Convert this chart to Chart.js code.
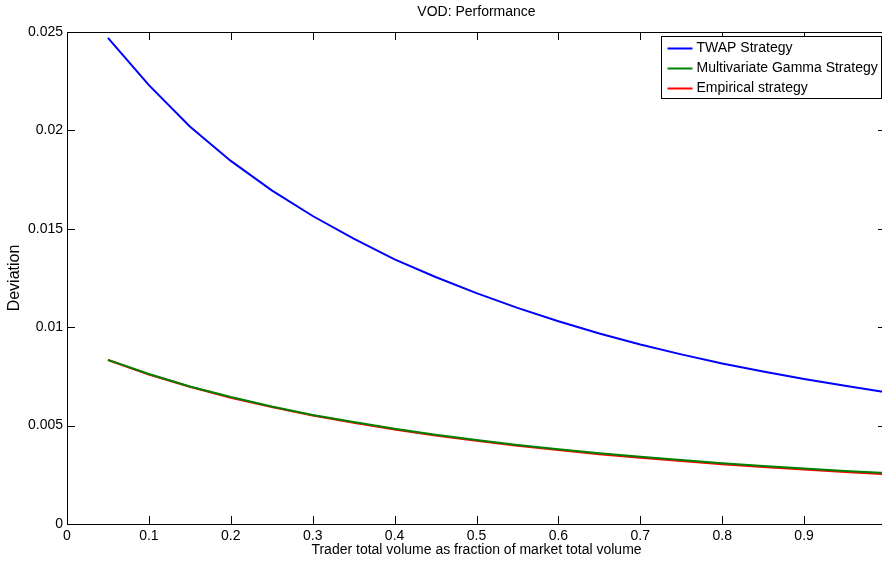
<!DOCTYPE html>
<html>
<head>
<meta charset="utf-8">
<script src="https://cdn.jsdelivr.net/npm/chart.js@4/dist/chart.umd.min.js"></script>
<style>
  body { margin: 0; overflow: hidden; background: #fff; }
</style>
</head>
<body>
<canvas id="myChart" width="890" height="563"></canvas>
<script>
// fraction of market volume
const volumeFraction = [0.05, 0.10, 0.15, 0.20, 0.25, 0.30, 0.35, 0.40, 0.45, 0.50,
                        0.55, 0.60, 0.65, 0.70, 0.75, 0.80, 0.85, 0.90, 0.95, 1.00];
const twapDev = [0.0247, 0.0223, 0.0202, 0.01845, 0.01695, 0.01565, 0.0145, 0.01345, 0.01255, 0.01173,
                 0.01098, 0.0103, 0.00968, 0.00912, 0.00862, 0.00816, 0.00775, 0.00737, 0.00702, 0.0067];
const gammaDev = [0.00834, 0.00762, 0.00699, 0.00645, 0.00597, 0.00554, 0.00518, 0.00484, 0.00454, 0.00427,
                  0.00402, 0.00380, 0.00360, 0.00342, 0.00325, 0.00309, 0.00295, 0.00282, 0.00269, 0.00259];
const empiricalDev = [0.00833, 0.00760, 0.00697, 0.00642, 0.00594, 0.00551, 0.00514, 0.00480, 0.00450, 0.00423,
                      0.00398, 0.00376, 0.00355, 0.00337, 0.00320, 0.00304, 0.00290, 0.00277, 0.00264, 0.00253];
const seriesNames = ['TWAP Strategy', 'Multivariate Gamma Strategy', 'Empirical strategy'];

const FONT = 'Liberation Sans, Arial, Helvetica, sans-serif';

function pts(ys) {
    return volumeFraction.map((x, i) => ({ x: x, y: ys[i] }));
}

// matlab style box, inward ticks, title and legend
const matlabBox = {
    id: 'matlabBox',
    afterDraw(chart) {
        const ctx = chart.ctx;
        const a = chart.chartArea;
        const xs = chart.scales.x, ys = chart.scales.y;
        ctx.save();
        ctx.strokeStyle = '#000';
        ctx.lineWidth = 1;
        ctx.strokeRect(Math.round(a.left) + 0.5, Math.round(a.top) + 0.5,
                       Math.round(a.right - a.left), Math.round(a.bottom - a.top));
        ctx.beginPath();
        xs.ticks.forEach(t => {
            const px = Math.round(xs.getPixelForValue(t.value)) + 0.5;
            ctx.moveTo(px, a.bottom); ctx.lineTo(px, a.bottom - 8);
            ctx.moveTo(px, a.top); ctx.lineTo(px, a.top + 8);
        });
        ys.ticks.forEach(t => {
            const py = Math.round(ys.getPixelForValue(t.value)) + 0.5;
            ctx.moveTo(a.left, py); ctx.lineTo(a.left + 8, py);
            ctx.moveTo(a.right, py); ctx.lineTo(a.right - 8, py);
        });
        ctx.stroke();

        // title
        ctx.fillStyle = '#000';
        ctx.font = '14px ' + FONT;
        ctx.textAlign = 'center';
        ctx.textBaseline = 'middle';
        ctx.fillText('VOD: Performance', (a.left + a.right) / 2, 12);

        // legend
        const sets = chart.data.datasets;
        let w = 0;
        sets.forEach(d => { w = Math.max(w, ctx.measureText(d.label).width); });
        const bw = Math.round(w + 39), bh = 62;
        const bx = 881.5 - bw, by = Math.round(a.top + 4) + 0.5;
        ctx.fillStyle = '#fff';
        ctx.fillRect(bx, by, bw, bh);
        ctx.strokeRect(bx, by, bw, bh);
        ctx.textAlign = 'left';
        sets.forEach((d, i) => {
            const yy = by + 12 + i * 20;
            ctx.strokeStyle = d.borderColor;
            ctx.lineWidth = 2;
            ctx.beginPath();
            ctx.moveTo(bx + 6, yy); ctx.lineTo(bx + 31, yy);
            ctx.stroke();
            ctx.fillStyle = '#000';
            ctx.fillText(d.label, bx + 35, yy);
        });
        ctx.restore();
    }
};

const ctx = document.getElementById('myChart');
new Chart(ctx, {
    type: 'line',
    data: {
        datasets: [{
            label: seriesNames[0],
            data: pts(twapDev),
            borderColor: '#0000ff',
            borderWidth: 2
        }, {
            label: seriesNames[1],
            data: pts(gammaDev),
            borderColor: '#008000',
            borderWidth: 2
        }, {
            label: seriesNames[2],
            data: pts(empiricalDev),
            borderColor: '#ff0000',
            borderWidth: 2
        }]
    },
    options: {
        responsive: false,
        animation: false,
        devicePixelRatio: 1,
        layout: { padding: { top: 32, right: 4, left: 0, bottom: 0 } },
        elements: { point: { radius: 0 }, line: { tension: 0 } },
        plugins: {
            legend: { display: false },
            tooltip: { enabled: false }
        },
        scales: {
            x: {
                type: 'linear',
                min: 0,
                max: 1,
                grid: { display: false, drawTicks: false },
                border: { display: false },
                ticks: {
                    stepSize: 0.1,
                    padding: 4,
                    color: '#000',
                    font: { family: FONT, size: 14 },
                    maxRotation: 0,
                    callback: v => String(+v.toFixed(1))
                },
                title: {
                    display: true,
                    text: 'Trader total volume as fraction of market total volume',
                    color: '#000',
                    font: { family: FONT, size: 14 },
                    padding: { top: 0, bottom: 4 }
                },
                afterFit: s => { s.height = 39; s.paddingLeft = 0; s.paddingRight = 0; }
            },
            y: {
                min: 0,
                max: 0.025,
                grid: { display: false, drawTicks: false },
                border: { display: false },
                ticks: {
                    stepSize: 0.005,
                    padding: 4,
                    color: '#000',
                    font: { family: FONT, size: 14 },
                    callback: v => String(+v.toFixed(3))
                },
                title: {
                    display: true,
                    text: 'Deviation',
                    color: '#000',
                    font: { family: FONT, size: 16 },
                    padding: { top: 5, bottom: 0 }
                },
                afterFit: s => { s.width = 67; s.paddingTop = 0; s.paddingBottom = 0; }
            }
        }
    },
    plugins: [matlabBox]
});
</script>
</body>
</html>
